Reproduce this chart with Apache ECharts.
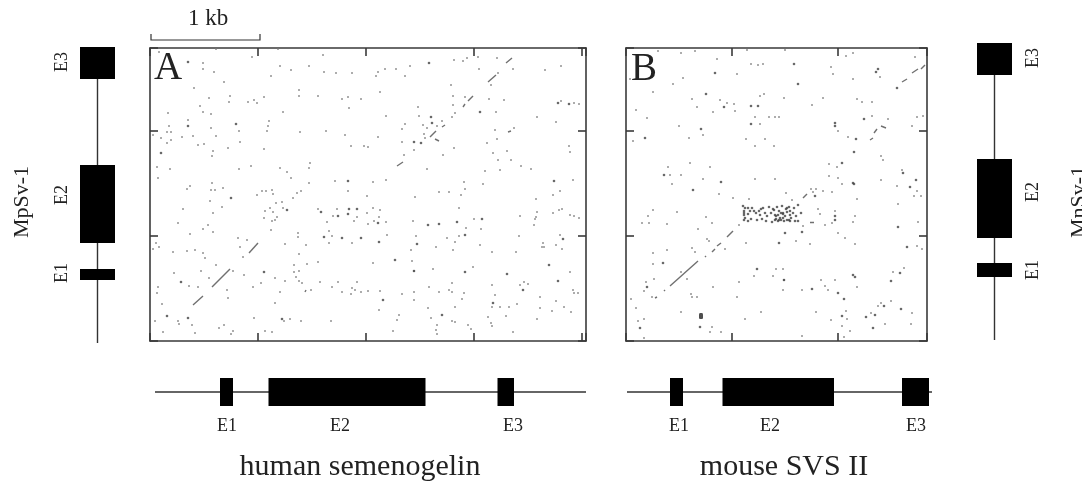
<!DOCTYPE html>
<html><head><meta charset="utf-8">
<style>html,body{margin:0;padding:0;background:#fff}#c{width:1082px;height:481px;filter:blur(0.35px)}</style>
<script src="https://cdn.jsdelivr.net/npm/echarts@6/dist/echarts.min.js"></script>
</head><body><div id="c"></div>
<script>
// Position units are alignment steps along each sequence (about 108 steps = 1 kb)
const aDots=[[9,289],[53,278],[53,272],[64,269],[74,259],[44,253],[66,292],[102,284],[128,292],[173,286],[130,275],[141,271],[159,275],[174,269],[186,268],[202,268],[121,265],[149,251],[149,245],[168,245],[59,243],[80,245],[79,239],[98,239],[104,241],[107,238],[114,244],[192,242],[198,244],[211,242],[199,233],[50,235],[53,229],[61,227],[18,228],[133,229],[38,221],[19,215],[61,213],[89,210],[119,220],[118,215],[117,210],[150,209],[176,210],[195,206],[17,209],[21,209],[3,206],[11,203],[32,204],[43,205],[66,205],[21,201],[17,198],[48,196],[54,197],[90,199],[201,195],[214,195],[218,194],[63,190],[78,193],[114,192],[62,185],[7,174],[20,172],[89,172],[101,175],[130,173],[137,169],[160,178],[159,173],[8,163],[141,163],
[226,265],[228,269],[235,272],[246,272],[260,275],[255,265],[304,281],[313,280],[317,283],[328,284],[347,283],[329,272],[363,272],[395,271],[411,275],[348,268],[341,256],[301,256],[230,249],[303,245],[315,244],[339,242],[354,241],[303,236],[268,234],[346,229],[305,228],[302,224],[269,225],[236,225],[273,216],[277,213],[287,215],[292,220],[255,217],[252,212],[387,224],[406,219],[411,240],[424,238],[429,237],[345,211],[364,213],[228,204],[252,199],[275,203],[274,207],[347,202],[337,198],[304,193],[264,191],[357,190],[419,195],[420,189],[293,186],[254,186],[343,188],[348,181],[361,181],[277,172],[335,170],[350,171],[371,175],[381,172],[236,161],[223,159],[423,161],[314,159],[333,157],[315,152],[289,149],[299,149],[311,146],[265,144],[410,150],[403,146],[386,142],
[62,158],[40,155],[37,152],[61,151],[65,151],[73,153],[60,140],[72,134],[33,132],[63,128],[28,118],[58,116],[53,112],[63,109],[40,107],[107,146],[112,150],[116,150],[122,151],[123,147],[147,148],[151,150],[143,143],[132,139],[126,138],[115,130],[120,133],[123,129],[133,133],[114,123],[122,120],[125,121],[127,124],[121,111],[159,158],[185,160],[198,150],[217,145],[168,132],[187,132],[183,125],[207,124],[217,128],[204,120],[218,117],[177,119],[179,110],[182,105],[179,98],[202,98],[148,108],[148,104],[135,97],[156,96],[88,103],[97,101],[90,94],[93,84],[6,98],[9,94],[3,92],[23,89],[37,90],[45,91],[53,88],[55,83],[66,76],[24,68],[51,70],[59,63],[83,70],[94,66],[39,55],[48,54],[8,54],[7,48],[77,51],[78,43],[12,37],[103,54],[111,58],[125,63],[135,60],[149,87],[144,76],[144,69],[149,70],[157,77],[168,79],[146,64],[149,60],[152,58],[170,59],[188,59],[207,59],[182,54],[202,53],[192,49],[201,47],[205,51],[211,49],[218,50],[130,49],[161,51],[125,38],[5,20],[28,20],[29,17],[42,16],[13,9],[74,16],[69,13],[45,8],[83,10],[81,7],[104,23],[134,20],[140,22],[151,20],[181,20],[115,10],[122,9],
[223,133],[230,131],[229,124],[224,120],[236,119],[263,120],[309,133],[324,122],[316,113],[331,112],[237,106],[266,105],[297,103],[305,99],[309,105],[330,96],[286,94],[303,91],[261,91],[342,89],[366,89],[223,78],[262,80],[264,70],[283,72],[323,74],[302,58],[279,54],[342,56],[289,49],[299,51],[302,49],[314,48],[264,49],[230,50],[252,47],[264,41],[312,42],[345,46],[229,31],[249,26],[247,21],[278,33],[281,23],[305,34],[302,20],[305,19],[287,16],[286,11],[287,7],[318,16],[321,12],[243,10],[342,34],[350,34],[359,34],[367,37],[356,25],[338,24],[341,18],[342,15],[363,9],[370,56],[374,59],[378,57],[390,44],[390,33],[402,30],[406,40],[387,22],[414,34],[421,29],[423,51],[424,48],[428,48],[420,69],[412,92],[392,94],[394,94],[393,98],[406,96],[410,106],[369,105],[384,116],[385,122],[386,124],[387,129],[370,125],[403,128],[409,131],[412,132],[420,126],[424,125],[429,123]];
const aStrong=[[38,279],[86,217],[38,215],[11,188],[279,278],[330,229],[281,224],[282,218],[264,199],[271,198],[404,160],[408,238],[419,237],[81,143],[137,131],[198,160],[171,129],[199,132],[207,132],[188,125],[198,127],[174,104],[192,103],[211,103],[31,59],[17,25],[38,23],[132,22],[114,69],[289,117],[278,116],[307,119],[332,122],[267,97],[315,106],[245,81],[315,69],[233,41],[292,26],[357,67],[373,51],[408,60],[399,76],[413,102],[228,118],[229,99],[264,70],[343,38]];
const aSegments=[[[356,278],[362,283]],[[338,259],[346,266]],[[318,240],[323,245]],[[313,234],[315,237]],[[280,204],[286,210]],[[247,175],[253,179]],[[292,214],[295,216]],[[358,209],[361,210]],[[285,202],[289,200]],[[62,54],[80,72]],[[99,88],[108,98]],[[43,36],[53,45]],[[156,51],[155,49]]];

const bDots=[[32,290],[55,288],[69,290],[91,282],[121,291],[125,277],[132,276],[137,277],[111,267],[57,263],[47,257],[4,262],[27,249],[134,245],[138,247],[158,243],[66,242],[94,241],[71,234],[101,238],[87,229],[108,237],[109,230],[10,231],[21,223],[129,224],[143,224],[149,224],[153,224],[53,215],[77,206],[134,217],[7,200],[63,203],[120,202],[139,202],[129,195],[148,195],[64,178],[42,174],[84,174],[44,166],[55,166],[77,162],[129,162],[149,162],[46,157],[93,147],[160,148],[107,143],[123,142],
[159,291],[220,285],[227,288],[289,284],[205,274],[207,267],[227,262],[254,264],[197,243],[186,236],[231,242],[236,239],[246,239],[212,210],[246,225],[262,222],[291,224],[297,225],[286,215],[222,204],[255,185],[257,181],[203,177],[211,174],[203,165],[212,163],[216,157],[255,161],[276,171],[271,155],[291,150],[288,145],[295,145],[185,152],[190,152],[187,149],[197,150],[206,149],[231,142],
[113,116],[27,131],[22,125],[16,118],[23,118],[41,117],[51,129],[80,124],[86,118],[72,112],[81,102],[83,100],[66,93],[69,89],[41,91],[27,88],[99,92],[27,77],[55,69],[28,62],[61,62],[20,59],[18,50],[113,59],[87,54],[65,47],[66,44],[71,44],[111,44],[26,44],[5,42],[10,33],[55,29],[135,29],[12,20],[18,22],[119,22],[86,14],[84,9],[95,9],[18,3],[120,98],[128,65],[150,72],[157,72],[147,65],[158,61],[157,51],
[166,141],[192,132],[194,127],[209,130],[206,118],[199,116],[229,125],[227,119],[177,115],[170,100],[184,97],[212,108],[219,103],[229,97],[272,137],[292,119],[291,95],[296,92],[278,73],[267,69],[195,61],[209,61],[199,55],[202,51],[176,51],[231,54],[265,40],[255,38],[252,35],[286,28],[190,29],[220,30],[221,22],[205,21],[245,28],[216,15],[224,10],[218,4],[259,17],[285,17],[176,5]];
const bStrong=[[89,268],[80,247],[98,234],[125,235],[132,235],[75,212],[125,217],[19,203],[38,166],[95,159],[67,151],[168,277],[252,272],[250,269],[172,257],[209,218],[209,215],[238,222],[230,202],[228,189],[216,178],[277,168],[290,161],[284,154],[227,158],[228,157],[189,145],[271,253],[21,54],[37,78],[159,108],[153,98],[131,72],[158,61],[118,130],[118,126],[118,121],[122,127],[122,120],[209,125],[209,121],[176,109],[272,114],[281,94],[274,68],[265,60],[229,64],[227,66],[186,52],[212,48],[218,42],[258,35],[275,32],[216,25],[240,24],[249,26],[247,13],[14,13],[74,14],
[117,135],[122,133],[126,133],[130,128],[131,121],[134,126],[136,122],[137,133],[139,128],[140,120],[133,130],[143,134],[150,125],[152,120],[153,130],[154,123],[156,135],[157,127],[158,120],[160,132],[163,121],[164,130],[148,131],[146,119],[147,132],[151,134],[149,126],[149,121],[152,126],[153,121],[157,128],[157,123],[161,129],[161,133],[161,121],[164,126],[164,120],[167,128],[169,120],[172,120],[168,133],[172,136],[175,128],
[119,133],[118,128],[119,123],[124,130],[125,122],[128,130],[135,132],[141,125],[145,128],[155,128],[159,125],[165,123],[170,125],[163,134],[155,121],[150,122]];
const bHeavy=[[75,25]];
const bSegments=[[[177,143],[181,147]],[[276,259],[281,262]],[[286,268],[292,272]],[[295,272],[299,276]],[[244,201],[247,203]],[[248,208],[251,212]],[[255,215],[260,213]],[[44,55],[72,80]],[[79,84],[80,85]],[[86,89],[89,92]],[[91,95],[95,98]],[[101,104],[107,110]],[[29,43],[31,44]],[[38,50],[39,51]],[[184,119],[188,119]]];

const humanIntron=[5,436];
const humanExons=[[70,83],[118.5,275.5],[347.5,364]];
const mouseIntron=[1,306];
const mouseExons=[[44,57],[96.5,208],[276,303]];
const mpsvIntron=[-2,294];
const mpsvExons=[[61,72],[98,176],[262,294]];
const mnsvIntron=[1,298];
const mnsvExons=[[64,78],[103,182],[266,298]];
const exonNames=['E1','E2','E3'];
const scaleBar=[[1,307],[1,301],[110,301],[110,307]];

const serif='"Liberation Serif","Times New Roman",serif';
const ink='#3a3a3a';

const grids=[],xAxes=[],yAxes=[],series=[];
function axisStyle(extra){return Object.assign({type:'value',axisLine:{show:true,onZero:false,lineStyle:{color:ink,width:1.6}},axisTick:{show:true,inside:true,length:8,lineStyle:{color:ink,width:1.6}},axisLabel:{show:false},splitLine:{show:false}},extra);}
function plainAxis(min,max){return {type:'value',min,max,show:false};}
function addGrid(box){grids.push(Object.assign({containLabel:false,show:false},box));return grids.length-1;}

function panel(box,xMax,yMax,xStep,yStep,dots,strong,segs,heavy){
  const g=addGrid(box);
  const xi=xAxes.length,yi=yAxes.length;
  xAxes.push(axisStyle({gridIndex:g,min:0,max:xMax,interval:xStep,position:'bottom'}));
  xAxes.push(axisStyle({gridIndex:g,min:0,max:xMax,interval:xStep,position:'top'}));
  yAxes.push(axisStyle({gridIndex:g,min:0,max:yMax,interval:yStep,position:'left'}));
  yAxes.push(axisStyle({gridIndex:g,min:0,max:yMax,interval:yStep,position:'right'}));
  const base={type:'scatter',xAxisIndex:xi,yAxisIndex:yi,silent:true,animation:false};
  series.push(Object.assign({},base,{data:dots,symbolSize:2,itemStyle:{color:'#777'}}));
  series.push(Object.assign({},base,{data:strong,symbolSize:2.6,itemStyle:{color:'#444'}}));
  if(heavy)series.push(Object.assign({},base,{data:heavy,symbol:'roundRect',symbolSize:[4,6],itemStyle:{color:'#222'}}));
  series.push({type:'lines',coordinateSystem:'cartesian2d',xAxisIndex:xi,yAxisIndex:yi,silent:true,animation:false,
    lineStyle:{color:'#707070',width:1.4,opacity:1},data:segs.map(c=>({coords:c}))});
  return {xi,yi};
}
function track(box,xr,yr,horizontal,intron,exons){
  const g=addGrid(box);
  const xi=xAxes.length,yi=yAxes.length;
  xAxes.push(Object.assign(plainAxis(xr[0],xr[1]),{gridIndex:g}));
  yAxes.push(Object.assign(plainAxis(yr[0],yr[1]),{gridIndex:g}));
  const pt=(pos,across)=>horizontal?[pos,across]:[across,pos];
  const lineData=[pt(intron[0],0.5),pt(intron[1],0.5)];
  series.push({type:'line',xAxisIndex:xi,yAxisIndex:yi,silent:true,animation:false,symbol:'none',clip:false,
    lineStyle:{color:'#333',width:1.4},data:lineData,z:2});
  series.push({type:'custom',xAxisIndex:xi,yAxisIndex:yi,silent:true,animation:false,clip:false,z:3,
    data:exons,
    renderItem:(p,api)=>{
      const a=api.coord(pt(api.value(0),0)),b=api.coord(pt(api.value(1),1));
      return {type:'rect',shape:{x:Math.min(a[0],b[0]),y:Math.min(a[1],b[1]),width:Math.abs(b[0]-a[0]),height:Math.abs(b[1]-a[1])},style:{fill:'#000'}};
    }});
}
const A=panel({left:150,top:48,width:436,height:293},436,293,108,105,aDots,aStrong,aSegments);
panel({left:626,top:48,width:301,height:293},301,293,106,105,bDots,bStrong,bSegments,bHeavy);
// 1 kb scale bar on the scale of panel A
series.push({type:'lines',coordinateSystem:'cartesian2d',polyline:true,clip:false,xAxisIndex:A.xi,yAxisIndex:A.yi,silent:true,animation:false,
  lineStyle:{color:'#333',width:1.2,opacity:1},data:[{coords:scaleBar}]});
track({left:150,top:378,width:436,height:28},[0,436],[0,1],true,humanIntron,humanExons);
track({left:626,top:378,width:306,height:28},[0,306],[0,1],true,mouseIntron,mouseExons);
track({left:80,top:40,width:35,height:305},[0,1],[-4,301],false,mpsvIntron,mpsvExons);
track({left:977,top:40,width:35,height:305},[0,1],[-4,301],false,mnsvIntron,mnsvExons);

const txt=(text,x,y,size,rot)=>({type:'text',x,y,rotation:rot?Math.PI/2:0,silent:true,
  style:{text,font:size+'px '+serif,fill:'#222',textAlign:'center',textVerticalAlign:'middle'}});
const graphic=[
  txt('1 kb',208,19,23),
  txt('A',168,69,39),
  txt('B',644,70,39),
  txt('human semenogelin',360,467,30),
  txt('mouse SVS II',784,467,30),
  txt('MpSv-1',22,202,22,true),
  txt('MnSv-1',1079,202,22,true),
];
[[227,340,513],[679,770,916]].forEach(xs=>xs.forEach((x,i)=>graphic.push(txt(exonNames[i],x,426,18))));
[[62,273],[62,195],[62,62]].forEach((p,i)=>graphic.push(txt(exonNames[i],p[0],p[1],18,true)));
[[1033,270],[1033,192],[1033,58]].forEach((p,i)=>graphic.push(txt(exonNames[i],p[0],p[1],18,true)));

const chart=echarts.init(document.getElementById('c'),null,{renderer:'canvas'});
chart.setOption({animation:false,backgroundColor:'#fff',tooltip:{show:false},grid:grids,xAxis:xAxes,yAxis:yAxes,series,graphic});
</script></body></html>
